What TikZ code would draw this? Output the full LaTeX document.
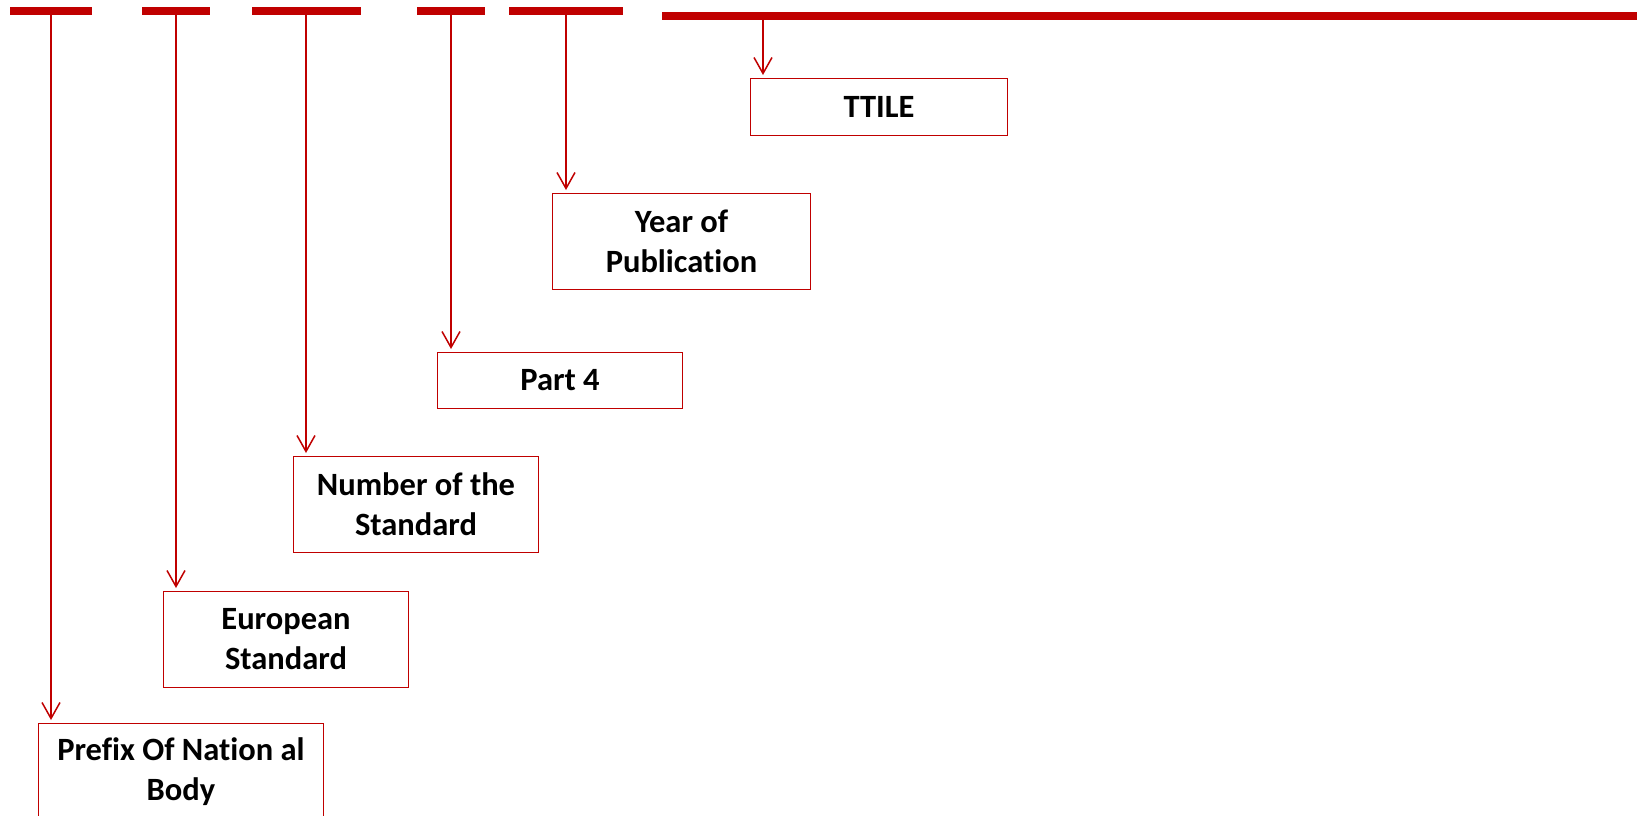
\documentclass[tikz,border=0pt]{standalone}
\usepackage{fontspec}
\setmainfont{Carlito}[Ligatures=NoCommon]
\usepackage{tikz}
\usetikzlibrary{arrows.meta, positioning}
\usepackage{xcolor}
\definecolor{stdred}{RGB}{192,0,0}

\begin{document}
\begin{tikzpicture}[
    x=1pt, y=-1pt,
    seg/.style={rectangle, fill=stdred, inner sep=0pt, minimum height=8pt},
    part/.style={rectangle, draw=stdred, line width=1pt, inner sep=0pt, anchor=north west,
                 minimum width=245pt, minimum height=96pt, align=center,
                 font=\fontsize{32.5}{40}\selectfont\bfseries},
    arr/.style={-{Straight Barb[length=16pt, width=18pt]}, stdred, line width=1.5pt, shorten >=3pt},
]
    \useasboundingbox (0,0) rectangle (1637,815);

    % Designation segments
    \node[seg, minimum width=82pt] (s1) at (51,11) {};
    \node[seg, minimum width=68pt] (s2) at (176,11) {};
    \node[seg, minimum width=109pt] (s3) at (306,11) {};
    \node[seg, minimum width=68pt] (s4) at (451,11) {};
    \node[seg, minimum width=114pt] (s5) at (566,11) {};
    \node[seg, minimum width=990pt, anchor=west] (s6) at (662,16) {};

    % Parts
    \node[part, minimum width=257pt, minimum height=57pt] (ttl) at (750,78) {TTILE};
    \node[part, minimum width=258pt] (year) at (552,193) {Year of\\Publication};
    \node[part, minimum height=56pt] (prt) at (437,352) {Part 4};
    \node[part] (num) at (293,456) {Number of the\\Standard};
    \node[part] (eur) at (163,591) {European\\Standard};
    \node[part, minimum width=285pt] (pfx) at (38,723) {Prefix Of Nation al\\Body};

    % Arrows
    \draw[arr] (s1.south) -- (s1.south |- pfx.north);
    \draw[arr] (s2.south) -- (s2.south |- eur.north);
    \draw[arr] (s3.south) -- (s3.south |- num.north);
    \draw[arr] (s4.south) -- (s4.south |- prt.north);
    \draw[arr] (s5.south) -- (s5.south |- year.north);
    \coordinate (tap) at ([xshift=13pt]ttl.north west);
    \draw[arr] (s6.south -| tap) -- (tap);
\end{tikzpicture}
\end{document}
